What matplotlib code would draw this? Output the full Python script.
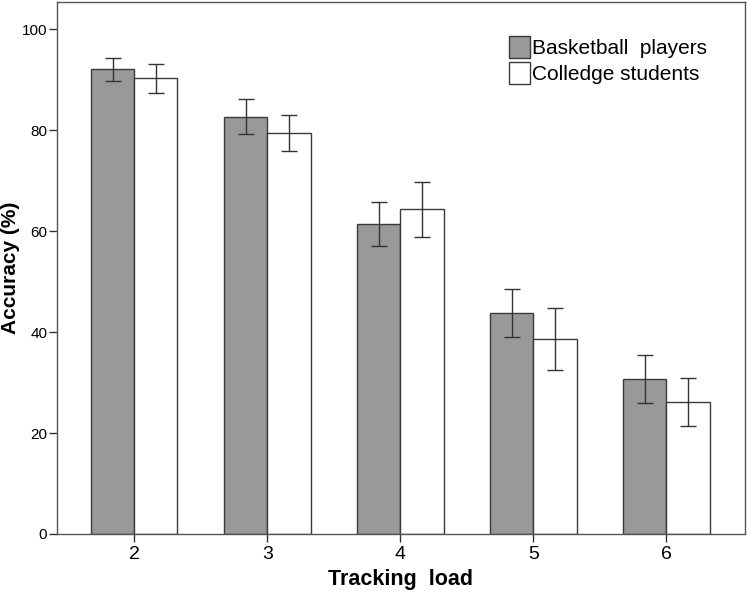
import numpy as np
import matplotlib
matplotlib.use("Agg")
import matplotlib.pyplot as plt
from matplotlib.patches import Patch

plt.rcParams['font.family'] = ['Liberation Sans', 'DejaVu Sans']

loads = [2, 3, 4, 5, 6]
players = [92.1, 82.7, 61.4, 43.8, 30.7]
players_err = [2.3, 3.4, 4.3, 4.8, 4.7]
students = [90.3, 79.5, 64.3, 38.6, 26.2]
students_err = [2.9, 3.6, 5.4, 6.2, 4.8]

fig = plt.figure(figsize=(7.47, 5.93), dpi=100)
ax = fig.add_axes([0.0763, 0.0995, 0.921, 0.897])

x = np.array(loads, dtype=float)
w = 0.325
ax.bar(x - w / 2, players, w, color='#999999', edgecolor='#3a3a3a', linewidth=1.0)
ax.bar(x + w / 2, students, w, color='white', edgecolor='#3a3a3a', linewidth=1.0)
ax.errorbar(x - w / 2, players, yerr=players_err, fmt='none', ecolor='#333333',
            elinewidth=1.0, capsize=6, capthick=1.0)
ax.errorbar(x + w / 2, students, yerr=students_err, fmt='none', ecolor='#333333',
            elinewidth=1.0, capsize=6, capthick=1.0)

ax.set_xlim(1.42, 6.59)
ax.set_ylim(0, 105.4)
ax.set_xticks(loads)
ax.set_xticklabels([str(v) for v in loads], fontsize=14)
ax.set_yticks([0, 20, 40, 60, 80, 100])
ax.tick_params(axis='y', labelsize=11, length=6, width=1.0, color='#333333', pad=1)
ax.tick_params(axis='x', length=6, width=1.0, color='#333333', pad=3)
for s in ax.spines.values():
    s.set_color('#555555')
    s.set_linewidth(1.0)

fig.text(0.0147, 0.548, 'Accuracy (%)', rotation=90, ha='center', va='center',
         fontsize=15, fontweight='bold')
fig.text(0.536, 0.0236, 'Tracking  load', ha='center', va='center',
         fontsize=15.5, fontweight='bold')

handles = [Patch(facecolor='#999999', edgecolor='#3a3a3a', label='Basketball  players'),
           Patch(facecolor='white', edgecolor='#3a3a3a', label='Colledge students')]
ax.legend(handles=handles, loc='upper left', bbox_to_anchor=(0.645, 0.951), frameon=False,
          fontsize=15, handlelength=1.0, handleheight=1.2, handletextpad=0.1,
          labelspacing=0.2, borderaxespad=0)

fig.savefig('out.png', dpi=100)
